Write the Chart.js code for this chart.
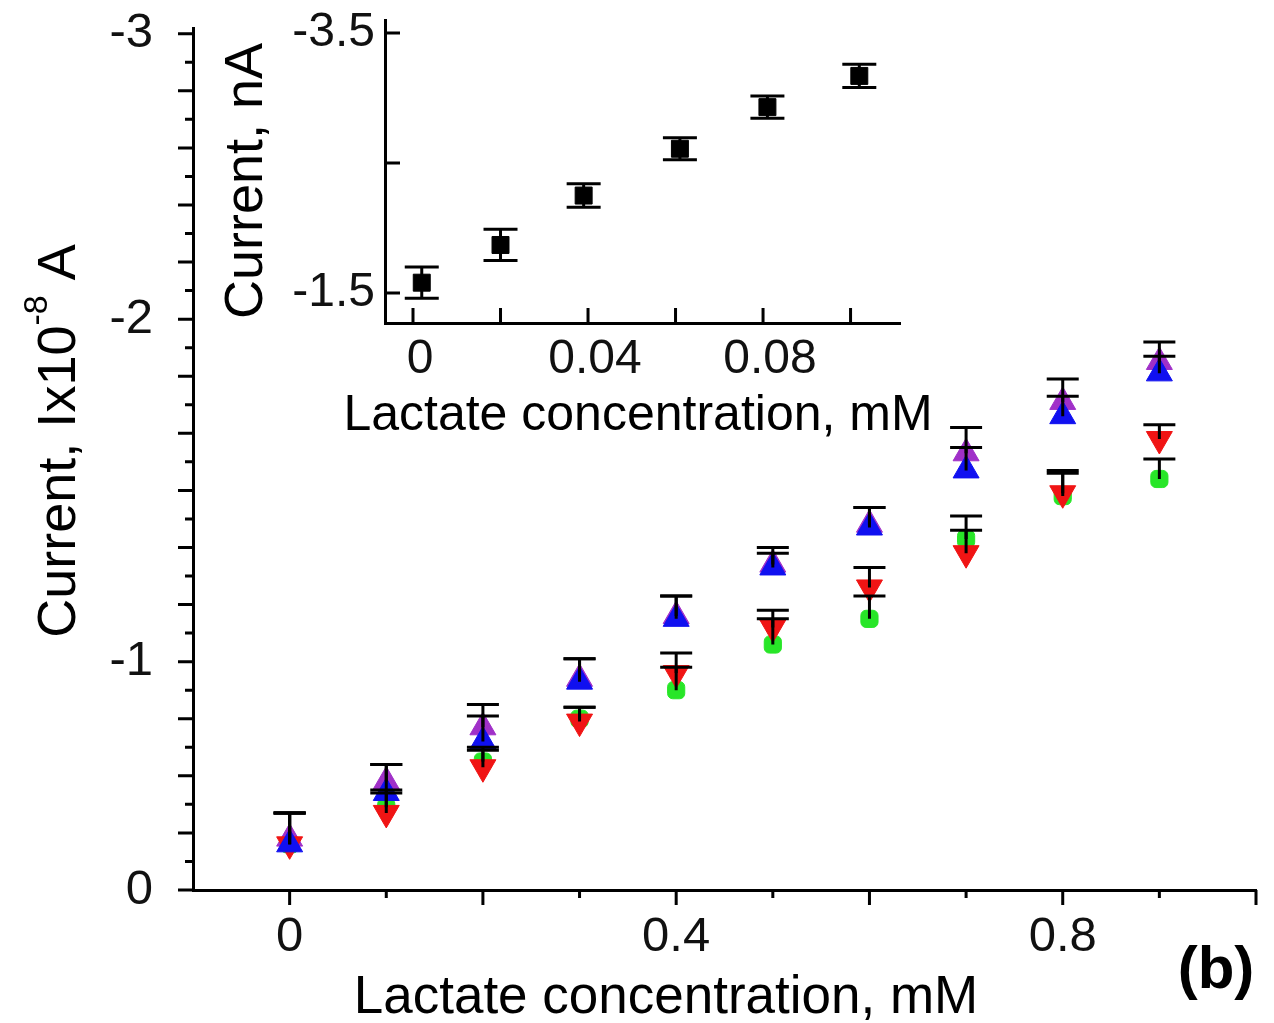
<!DOCTYPE html>
<html>
<head>
<meta charset="utf-8">
<script src="https://cdn.jsdelivr.net/npm/chart.js@4.4.1/dist/chart.umd.min.js"></script>
<style>
  body { margin: 0; background: #fff; }
  #wrap { position: relative; width: 1274px; height: 1023px; }
  #main { position: absolute; left: 0; top: 0; }
  #inset { position: absolute; left: 200px; top: 0; }
</style>
</head>
<body>
<div id="wrap">
  <canvas id="main" width="1274" height="1023"></canvas>
  <canvas id="inset" width="760" height="460"></canvas>
</div>
<script>
// ---- main plot data (current in units of 1e-8 A) ----
const concentration = [0, 0.1, 0.2, 0.3, 0.4, 0.5, 0.6, 0.7, 0.8, 0.9];

const currentBlue    = [-0.16, -0.34, -0.52, -0.73, -0.95, -1.13, -1.27, -1.47, -1.66, -1.81];
const errBlue        = [0.11, 0.10, 0.09, 0.08, 0.08, 0.05, 0.07, 0.08, 0.07, 0.06];
const currentMagenta = [-0.18, -0.38, -0.57, -0.74, -0.96, -1.14, -1.28, -1.53, -1.71, -1.85];
const errMagenta     = [0.09, 0.06, 0.08, 0.07, 0.07, 0.06, 0.06, 0.09, 0.08, 0.07];
const currentRed     = [-0.16, -0.27, -0.43, -0.59, -0.76, -0.92, -1.06, -1.18, -1.39, -1.58];
const errRed         = [0.11, 0.07, 0.06, 0.05, 0.07, 0.06, 0.07, 0.08, 0.07, 0.05];
const currentGreen   = [-0.16, -0.29, -0.45, -0.60, -0.70, -0.86, -0.95, -1.23, -1.38, -1.44];
const errGreen       = [0.11, 0.06, 0.05, 0.04, 0.08, 0.09, 0.08, 0.08, 0.09, 0.07];

// tick labels of the main plot (the "-1" label sits on the -0.8 tick in the original figure)
const xTickValues = [0, 0.4, 0.8];
const xTickLabels = ['0', '0.4', '0.8'];
const yTickValues = [0, -0.8, -2, -3];
const yTickLabels = ['0', '-1', '-2', '-3'];

// ---- inset data (current in nA) ----
const insetConcentration = [0.002, 0.02, 0.039, 0.061, 0.081, 0.102];
const insetCurrent       = [-1.58, -1.87, -2.25, -2.61, -2.93, -3.17];
const insetErr           = [0.12, 0.12, 0.09, 0.085, 0.085, 0.09];

const insetXTickValues = [0, 0.04, 0.08];
const insetXTickLabels = ['0', '0.04', '0.08'];
const insetYTickValues = [-3.5, -1.5];
const insetYTickLabels = ['-3.5', '-1.5'];

const FONT = '"Liberation Sans", Arial, sans-serif';

function toPoints(xs, ys) {
  return xs.map((x, i) => ({ x: x, y: ys[i] }));
}

// vertical error bars, drawn over the markers
const errorBars = {
  id: 'errorBars',
  afterDatasetsDraw(chart) {
    const { ctx, scales: { x, y } } = chart;
    ctx.save();
    ctx.strokeStyle = '#000';
    ctx.lineWidth = 3;
    chart.data.datasets.forEach(ds => {
      if (!ds.errors) return;
      const half = ds.capWidth / 2;
      ds.data.forEach((pt, j) => {
        const px = x.getPixelForValue(pt.x);
        const hi = y.getPixelForValue(pt.y - ds.errors[j]);
        const lo = y.getPixelForValue(ds.upOnly ? pt.y : pt.y + ds.errors[j]);
        ctx.beginPath();
        ctx.moveTo(px, hi); ctx.lineTo(px, lo);
        ctx.moveTo(px - half, hi); ctx.lineTo(px + half, hi);
        if (!ds.upOnly) { ctx.moveTo(px - half, lo); ctx.lineTo(px + half, lo); }
        ctx.stroke();
      });
    });
    ctx.restore();
  }
};

// axis tick marks (major / minor), len < 0 means pointing into the plot
const tickMarks = {
  id: 'tickMarks',
  afterDraw(chart, args, opts) {
    const { ctx, chartArea: a, scales } = chart;
    ctx.save();
    ctx.strokeStyle = '#000';
    ctx.lineWidth = 3;
    ctx.beginPath();
    (opts.x || []).forEach(t => {
      const px = scales.x.getPixelForValue(t.v);
      ctx.moveTo(px, a.bottom);
      ctx.lineTo(px, a.bottom + t.len);
    });
    (opts.y || []).forEach(t => {
      const py = scales.y.getPixelForValue(t.v);
      ctx.moveTo(a.left, py);
      ctx.lineTo(a.left - t.len, py);
    });
    ctx.stroke();
    ctx.restore();
  }
};

// axis titles and panel letter, with optional superscript runs
const figureText = {
  id: 'figureText',
  afterDraw(chart, args, opts) {
    const ctx = chart.ctx;
    (opts.items || []).forEach(it => {
      ctx.save();
      ctx.translate(it.x, it.y);
      if (it.rotate) ctx.rotate(it.rotate);
      ctx.fillStyle = '#000';
      ctx.textBaseline = 'alphabetic';
      ctx.textAlign = 'left';
      let total = 0;
      it.runs.forEach(r => {
        ctx.font = (r.weight || 'normal') + ' ' + r.size + 'px ' + FONT;
        r.w = ctx.measureText(r.text).width;
        total += r.w;
      });
      let cx = -total / 2;
      it.runs.forEach(r => {
        ctx.font = (r.weight || 'normal') + ' ' + r.size + 'px ' + FONT;
        ctx.fillText(r.text, cx, -(r.rise || 0));
        cx += r.w;
      });
      ctx.restore();
    });
  }
};

function marks(from, to, step, majorEvery, majorLen, minorLen) {
  const out = [];
  const n = Math.round((to - from) / step);
  for (let i = 0; i <= n; i++) {
    out.push({ v: +(from + i * step).toFixed(4), len: i % majorEvery === 0 ? majorLen : minorLen });
  }
  return out;
}

// keep the plot box where the layout padding puts it
function fitY(width) {
  return s => { s.width = width; s.paddingTop = 0; s.paddingBottom = 0; };
}
function fitX(height) {
  return s => { s.height = height; s.paddingLeft = 0; s.paddingRight = 0; };
}

const tickFont = { family: FONT, size: 49 };

new Chart(document.getElementById('main'), {
  type: 'scatter',
  data: {
    datasets: [
      {
        label: 'blue', data: toPoints(concentration, currentBlue), errors: errBlue, upOnly: true, capWidth: 32,
        pointStyle: 'triangle', pointRadius: 15, pointBackgroundColor: '#1010f0', pointBorderColor: '#1010f0'
      },
      {
        label: 'red', data: toPoints(concentration, currentRed), errors: errRed, upOnly: true, capWidth: 32,
        pointStyle: 'triangle', pointRotation: 180, pointRadius: 15, pointBackgroundColor: '#f01414', pointBorderColor: '#f01414'
      },
      {
        label: 'magenta', data: toPoints(concentration, currentMagenta), errors: errMagenta, upOnly: true, capWidth: 32,
        pointStyle: 'triangle', pointRadius: 15, pointBackgroundColor: '#a030c8', pointBorderColor: '#a030c8'
      },
      {
        label: 'green', data: toPoints(concentration, currentGreen), errors: errGreen, upOnly: true, capWidth: 32,
        pointStyle: 'rectRounded', pointRadius: 10, pointBackgroundColor: '#28e628', pointBorderColor: '#28e628'
      }
    ]
  },
  options: {
    responsive: false,
    animation: false,
    layout: { padding: { top: 28, right: 18, left: 0, bottom: 0 } },
    plugins: {
      legend: { display: false },
      tooltip: { enabled: false },
      tickMarks: {
        x: marks(0, 1.0, 0.1, 2, 15, 8),
        y: marks(-3, 0, 0.1, 2, 15, 8)
      },
      figureText: {
        items: [
          { x: 75, y: 441, rotate: -Math.PI / 2, runs: [
            { text: 'Current, Ix10', size: 54 },
            { text: '-8', size: 34, rise: 28 },
            { text: ' A', size: 54 }
          ] },
          { x: 666, y: 1013, runs: [{ text: 'Lactate concentration, mM', size: 53 }] },
          { x: 1216, y: 988, runs: [{ text: '(b)', size: 60, weight: 'bold' }] }
        ]
      }
    },
    scales: {
      x: {
        type: 'linear', min: -0.1, max: 1.0,
        afterBuildTicks: s => { s.ticks = xTickValues.map(v => ({ value: v })); },
        afterFit: fitX(133),
        grid: { display: false, drawTicks: false },
        border: { display: true, color: '#000', width: 3 },
        ticks: {
          autoSkip: false, maxRotation: 0, padding: 18, color: '#111', font: tickFont,
          callback: (v, i) => xTickLabels[i]
        }
      },
      y: {
        type: 'linear', min: -3.02, max: 0, reverse: true,
        afterBuildTicks: s => { s.ticks = yTickValues.map(v => ({ value: v })); },
        afterFit: fitY(193),
        grid: { display: false, drawTicks: false },
        border: { display: true, color: '#000', width: 3 },
        ticks: {
          autoSkip: false, padding: 40, color: '#111', font: tickFont,
          callback: (v, i) => yTickLabels[i]
        }
      }
    }
  },
  plugins: [errorBars, tickMarks, figureText]
});

new Chart(document.getElementById('inset'), {
  type: 'scatter',
  data: {
    datasets: [
      {
        label: 'inset', data: toPoints(insetConcentration, insetCurrent), errors: insetErr, upOnly: false, capWidth: 34,
        pointStyle: 'rect', pointRadius: 12, pointBackgroundColor: '#000', pointBorderColor: '#000'
      }
    ]
  },
  options: {
    responsive: false,
    animation: false,
    layout: { padding: { top: 20, right: 60, left: 0, bottom: 0 } },
    plugins: {
      legend: { display: false },
      tooltip: { enabled: false },
      tickMarks: {
        x: marks(0, 0.1, 0.02, 1, -15, -15),
        y: marks(-3.5, -1.5, 1, 1, -15, -15)
      },
      figureText: {
        items: [
          { x: 62, y: 181, rotate: -Math.PI / 2, runs: [{ text: 'Current, nA', size: 54 }] },
          { x: 438, y: 430, runs: [{ text: 'Lactate concentration, mM', size: 50 }] }
        ]
      }
    },
    scales: {
      x: {
        type: 'linear', min: -0.0064, max: 0.1113,
        afterBuildTicks: s => { s.ticks = insetXTickValues.map(v => ({ value: v })); },
        afterFit: fitX(137),
        grid: { display: false, drawTicks: false },
        border: { display: true, color: '#000', width: 3 },
        ticks: {
          autoSkip: false, maxRotation: 0, padding: 8, labelOffset: 7, color: '#111',
          font: { family: FONT, size: 48 },
          callback: (v, i) => insetXTickLabels[i]
        }
      },
      y: {
        type: 'linear', min: -3.6, max: -1.27, reverse: true,
        afterBuildTicks: s => { s.ticks = insetYTickValues.map(v => ({ value: v })); },
        afterFit: fitY(185),
        grid: { display: false, drawTicks: false },
        border: { display: true, color: '#000', width: 3 },
        ticks: {
          autoSkip: false, padding: 10, color: '#111',
          font: { family: FONT, size: 48 },
          callback: (v, i) => insetYTickLabels[i]
        }
      }
    }
  },
  plugins: [errorBars, tickMarks, figureText]
});
</script>
</body>
</html>
